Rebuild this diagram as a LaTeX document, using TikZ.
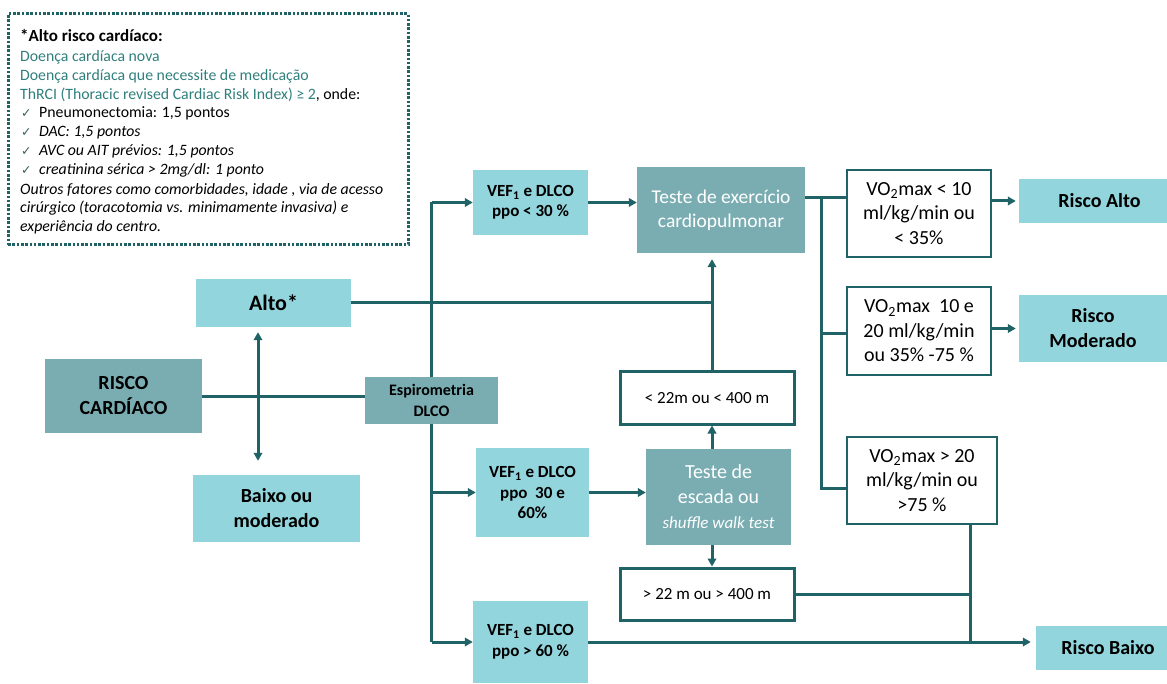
\documentclass[tikz,border=0pt]{standalone}
\usepackage{fontspec}
\setmainfont{Carlito}
\newfontfamily\symfont{DejaVu Sans}
\usetikzlibrary{arrows.meta}
\definecolor{lcyan}{HTML}{92D5DC}
\definecolor{mteal}{HTML}{7AADB2}
\definecolor{dteal}{HTML}{1F6366}
\definecolor{tteal}{HTML}{2F7F7C}
\definecolor{chkc}{HTML}{3A5F5F}
\newcommand{\fs}[2]{\fontsize{#1}{#2}\selectfont}
\newcommand{\chk}{{\symfont\fontsize{12.5}{14}\selectfont\color{chkc}✓}}
\pgfdeclarelayer{background}
\pgfsetlayers{background,main}
\begin{document}
\begin{tikzpicture}[x=1pt,y=-1pt,
  lbox/.style={fill=lcyan, inner sep=0pt, align=center, font=\bfseries\fs{20}{25}},
  mbox/.style={fill=mteal, inner sep=0pt, align=center},
  wbox/.style={draw=dteal, line width=3pt, fill=white, inner sep=0pt, align=center, font=\fs{17}{20}},
  vbox/.style={draw=dteal, line width=1.4pt, fill=white, inner sep=0pt, align=center, font=\fs{20}{24.5}},
  vef/.style={lbox, font=\bfseries\fs{17}{20.5}},
  conn/.style={draw=dteal, line width=3pt},
  arr/.style={conn, -{Triangle[length=8pt,width=8.5pt]}},
  txt/.style={anchor=base west, inner sep=0pt, font=\fs{15.8}{19}},
]
\useasboundingbox (0,0) rectangle (1167,684);

% legend box
\node[draw=dteal, line width=3pt, dash pattern=on 2.6pt off 1.7pt, minimum width=400pt, minimum height=231pt, inner sep=0pt] (legend) at (208,129.5) {};
\node[txt, font=\bfseries\fs{17}{20}] (l1) at (20,42) {*Alto risco cardíaco:};
\node[txt, text=tteal] (l2) at (20,62) {Doença cardíaca nova};
\node[txt, text=tteal] (l3) at (20,81) {Doença cardíaca que necessite de medicação};
\node[txt] (l4) at (20,100) {\textcolor{tteal}{ThRCI (Thoracic revised Cardiac Risk Index) ≥ 2}, onde:};
\node[txt] (c1) at (21,118) {\chk};
\node[txt] (l5) at (39,118) {Pneumonectomia: 1,5 pontos};
\node[txt] (c2) at (21,137) {\chk};
\node[txt] (l6) at (39,137) {\itshape DAC: 1,5 pontos};
\node[txt] (c3) at (21,156) {\chk};
\node[txt] (l7) at (39,156) {\itshape AVC ou AIT prévios: 1,5 pontos};
\node[txt] (c4) at (21,175) {\chk};
\node[txt] (l8) at (39,175) {\itshape creatinina sérica > 2mg/dl: 1 ponto};
\node[txt] (l9) at (20,195) {\itshape Outros fatores como comorbidades, idade , via de acesso};
\node[txt] (l10) at (20,213) {\itshape cirúrgico (toracotomia vs. minimamente invasiva) e};
\node[txt] (l11) at (20,232) {\itshape experiência do centro.};

% boxes
\node[lbox, minimum width=155pt, minimum height=48pt, font=\bfseries\fs{22}{26}] (alto) at (273.5,303) {Alto*};
\node[mbox, minimum width=157pt, minimum height=73pt, font=\bfseries\fs{20}{25}] (risco) at (123.5,396) {RISCO\\CARDÍACO};
\node[lbox, minimum width=167pt, minimum height=67pt] (baixo) at (276.5,508.5) {Baixo ou\\moderado};
\node[mbox, minimum width=133pt, minimum height=47pt, font=\bfseries\fs{16}{21.5}] (espiro) at (431.5,400.5) {Espirometria\\DLCO};
\node[vef, minimum width=115pt, minimum height=65pt] (vef30) at (530.5,202.5) {VEF\textsubscript{1} e DLCO\\ppo < 30 \%};
\node[mbox, minimum width=168pt, minimum height=86pt, text=white, font=\fs{19.5}{24}] (testex) at (721,210) {Teste de exercício\\cardiopulmonar};
\node[wbox, minimum width=174pt, minimum height=52pt] (lt22) at (707,398) {< 22m ou < 400 m};
\node[vef, minimum width=113pt, minimum height=89pt] (vef3060) at (532.5,492.5) {VEF\textsubscript{1} e DLCO\\ppo~~30 e\\60\%};
\node[mbox, minimum width=145pt, minimum height=96pt, text=white, font=\fs{20}{25}] (escada) at (718.5,497) {Teste de\\escada ou\\{\itshape\fs{17}{25}shuffle walk test}};
\node[wbox, minimum width=174pt, minimum height=52pt] (gt22) at (707,594) {> 22 m ou > 400 m};
\node[vef, minimum width=115pt, minimum height=82pt] (vef60) at (530.5,642) {VEF\textsubscript{1} e DLCO\\ppo > 60 \%};
\node[vbox, minimum width=144pt, minimum height=87pt] (vo1) at (919,213.5) {VO\textsubscript{2}max < 10\\ml/kg/min ou\\< 35\%};
\node[lbox, minimum width=161pt, minimum height=44pt] (ralto) at (1099.5,201) {Risco Alto};
\node[vbox, minimum width=144pt, minimum height=88pt] (vo2) at (919,331) {VO\textsubscript{2}max~~10 e\\20 ml/kg/min\\ou 35\% -75 \%};
\node[lbox, minimum width=148pt, minimum height=67pt] (rmod) at (1093,328.5) {Risco\\Moderado};
\node[vbox, minimum width=150pt, minimum height=87pt] (vo3) at (922,480.5) {VO\textsubscript{2}max > 20\\ml/kg/min ou\\>75 \%};
\node[lbox, minimum width=144pt, minimum height=44pt] (rbaixo) at (1108,648) {Risco Baixo};

% helper coordinates
\coordinate (j1) at (258,396);
\coordinate (vx) at (712,302);
\coordinate (vz) at (970,524);
\coordinate (vy) at (821,198);
\coordinate (vy2) at (821,334);
\coordinate (vy3) at (821,488);

% connectors
\begin{pgfonlayer}{background}
\draw[conn] (risco.east) -- (risco.east -| espiro.west);
\draw[arr, shorten >=5pt] (j1) -- (j1 |- alto.south);
\draw[arr, shorten >=14pt] (j1) -- (j1 |- baixo.north);
\draw[conn] (alto.east) -- (alto.east -| vx);
\draw[conn] (espiro.center |- vef30.west) -- (espiro.center |- vef60.west);
\draw[arr] (vef30.west -| espiro.center) -- (vef30.west);
\draw[arr] (vef3060.west -| espiro.center) -- (vef3060.west);
\draw[arr] (vef60.west -| espiro.center) -- (vef60.west);
\draw[arr] (vef30.east) -- (vef30.east -| testex.west);
\draw[arr] (vef3060.east) -- (vef3060.east -| escada.west);
\draw[arr] (escada.north -| vx) -- (lt22.south -| vx);
\draw[arr, shorten >=6pt] (lt22.north -| vx) -- (testex.south -| vx);
\draw[arr] (escada.south -| vx) -- (gt22.north -| vx);
\draw[conn] (gt22.east) -- (gt22.east -| vz);
\draw[conn] (vo3.south -| vz) -- (vef60.east -| vz);
\draw[arr, shorten >=5pt] (vef60.east) -- (vef60.east -| rbaixo.west);
\draw[conn] (testex.east |- vy) -- (vo1.west |- vy);
\draw[conn] (vy) -- (vy3) -- (vy3 -| vo3.west);
\draw[conn] (vy2) -- (vy2 -| vo2.west);
\draw[arr, shorten >=3pt] (vo1.east |- ralto.west) -- (ralto.west);
\draw[arr, shorten >=3pt] (vo2.east |- rmod.west) -- (rmod.west);
\end{pgfonlayer}
\end{tikzpicture}
\end{document}
